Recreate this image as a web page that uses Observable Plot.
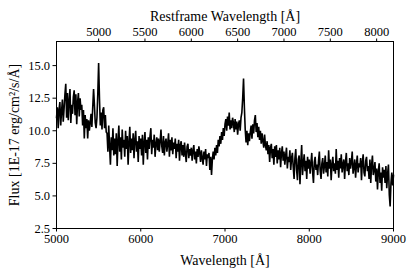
<!DOCTYPE html>
<html>
<head>
<meta charset="utf-8">
<script src="https://cdn.jsdelivr.net/npm/d3@7"></script>
<script src="https://cdn.jsdelivr.net/npm/@observablehq/plot@0.6"></script>
<style>
  html, body { margin: 0; padding: 0; background: #fff; }
  svg, svg text { font-family: "Liberation Serif", serif !important; }
  g[aria-label$="axis label"] text { font-size: 14px; }
</style>
</head>
<body>
<div id="chart"></div>
<script>
// Observed wavelength grid start/step (Å)
const waveStart = 5000;
const waveStep = 10;
// Flux values [1E-17 erg/cm²/s/Å], one every 10 Å from 5000 to 9000
const flux = [
  11.0, 11.8, 10.2, 11.6, 12.2, 10.4, 11.5, 12.4, 10.7, 11.7,
  12.8, 13.6, 11.0, 12.9, 10.8, 12.3, 13.2, 10.6, 12.0, 11.3,
  12.6, 13.1, 11.2, 12.8, 10.5, 12.2, 12.9, 11.1, 12.5, 11.6,
  12.0, 10.4, 11.6, 9.4, 11.2, 10.2, 10.9, 9.4, 10.8, 10.0,
  10.6, 11.3, 10.3, 11.8, 13.2, 12.0, 10.6, 10.2, 11.0, 12.8,
  15.2, 12.5, 10.4, 11.4, 10.1, 11.6, 11.8, 10.2, 11.2, 9.9,
  9.8, 8.4, 10.4, 8.8, 7.4, 9.5, 8.5, 10.2, 8.1, 9.4,
  8.2, 9.8, 7.3, 9.2, 10.4, 8.4, 9.5, 7.8, 10.1, 8.7,
  9.3, 8.0, 10.0, 8.6, 9.6, 7.4, 9.1, 10.3, 8.3, 9.4,
  8.5, 9.8, 7.9, 9.3, 10.0, 8.4, 9.2, 7.6, 9.6, 8.6,
  9.4, 8.1, 9.7, 7.4, 9.1, 9.9, 8.3, 9.3, 7.8, 9.5,
  8.6, 9.6, 10.2, 8.2, 9.3, 8.7, 9.7, 8.0, 9.0, 9.5,
  8.5, 9.4, 8.4, 9.2, 10.1, 8.8, 8.3, 9.6, 8.1, 9.1,
  9.4, 8.4, 9.0, 9.8, 8.0, 9.3, 8.5, 9.5, 8.2, 9.1,
  8.6, 9.4, 7.9, 9.0, 8.4, 9.3, 7.7, 8.9, 9.2, 8.1,
  8.9, 8.0, 9.1, 8.2, 7.6, 8.8, 9.0, 7.9, 8.6, 8.1,
  8.7, 7.7, 8.5, 8.9, 7.8, 8.4, 7.5, 8.6, 8.0, 8.8,
  8.3, 7.6, 8.5, 7.9, 7.4, 8.4, 7.8, 8.6, 7.3, 8.2,
  7.9, 8.3, 7.0, 8.0, 6.6, 7.8, 8.4, 7.8, 8.7, 8.1,
  8.9, 8.3, 9.3, 8.8, 9.6, 9.0, 9.9, 9.3, 10.2, 9.6,
  10.5, 10.9, 10.0, 11.1, 10.4, 11.4, 10.1, 10.8, 10.2, 11.0,
  10.6, 9.9, 10.9, 10.1, 10.7, 9.7, 10.5, 10.8, 10.0, 11.0,
  11.4, 12.5, 14.0, 11.8, 10.1, 9.1, 10.0, 8.9, 9.8, 9.2,
  9.9, 10.4, 9.4, 10.5, 9.8, 10.8, 11.2, 9.9, 10.6, 9.5,
  10.3, 9.3, 10.0, 9.0, 9.8, 9.2, 8.7, 9.7, 8.9, 8.5,
  9.2, 8.2, 8.9, 7.6, 8.7, 9.0, 7.9, 8.6, 7.4, 8.8,
  8.0, 8.9, 7.5, 8.5, 7.8, 8.7, 7.2, 8.3, 8.8, 7.7,
  8.4, 7.4, 8.1, 8.7, 7.1, 8.0, 7.6, 8.5, 7.0, 7.9,
  8.3, 7.2, 6.3, 7.9, 8.6, 7.0, 6.2, 7.8, 8.1, 5.9,
  7.6, 8.9, 6.6, 7.5, 8.2, 6.9, 7.7, 6.3, 8.0, 7.1,
  7.8, 6.7, 7.5, 8.3, 6.8, 6.0, 7.6, 8.0, 7.0, 7.4,
  6.6, 7.7, 8.4, 6.9, 6.3, 7.5, 7.9, 6.7, 7.3, 8.1,
  6.8, 7.6, 6.5, 8.5, 7.1, 7.8, 6.2, 7.4, 8.0, 6.9,
  7.5, 6.7, 8.6, 7.0, 7.7, 6.4, 7.9, 7.1, 8.2, 6.8,
  7.4, 7.8, 6.3, 7.6, 8.3, 6.9, 7.5, 6.6, 7.9, 7.1,
  7.6, 8.4, 6.7, 7.2, 7.8, 6.4, 7.4, 8.1, 6.8, 7.5,
  7.2, 7.9, 6.2, 7.6, 8.2, 6.8, 6.5, 7.7, 8.0, 6.9,
  7.3, 6.3, 7.8, 6.0, 7.4, 8.1, 6.6, 7.0, 7.6, 6.1,
  7.1, 5.5, 6.9, 7.5, 6.0, 6.8, 5.4, 7.2, 6.4, 7.0,
  6.0, 7.3, 5.6, 6.7, 7.4, 5.1, 4.2, 6.0, 6.8, 5.8,
  6.6
];
const redshiftFactor = 1.1; // observed / restframe
const bottomTicks = [5000, 6000, 7000, 8000, 9000];
const topTicks = [5000, 5500, 6000, 6500, 7000, 7500, 8000];
const yTicks = [2.5, 5.0, 7.5, 10.0, 12.5, 15.0];
const xDomain = [5000, 9000];
const yDomain = [2.5, 16.85];

const data = flux.map((f, i) => ({wave: waveStart + i * waveStep, flux: f}));

const chart = Plot.plot({
  width: 413,
  height: 273,
  marginLeft: 56,
  marginRight: 20,
  marginTop: 41,
  marginBottom: 45,
  style: {fontFamily: "Liberation Serif, serif", fontSize: "12.5px", color: "black", background: "white"},
  x: {domain: xDomain},
  y: {domain: yDomain},
  marks: [
    Plot.line(data, {x: "wave", y: "flux", stroke: "black", strokeWidth: 1.6, strokeLinejoin: "miter"}),
    Plot.frame({stroke: "black", strokeWidth: 1}),
    Plot.axisX({
      anchor: "bottom", ticks: bottomTicks, tickSize: 3.5, tickPadding: 2.5,
      tickFormat: d => String(d),
      label: "Wavelength [Å]", labelAnchor: "center", labelArrow: "none", labelOffset: 36
    }),
    Plot.axisX({
      anchor: "top",
      ticks: topTicks.map(r => r * redshiftFactor),
      tickSize: 3.5, tickPadding: 2,
      tickFormat: d => String(Math.round(d / redshiftFactor)),
      label: "Restframe Wavelength [Å]", labelAnchor: "center", labelArrow: "none", labelOffset: 30
    }),
    Plot.axisY({
      anchor: "left", ticks: yTicks, tickSize: 3.5, tickPadding: 3,
      tickFormat: d => d.toFixed(1),
      label: "Flux [1E-17 erg/cm²/s/Å]", labelAnchor: "center", labelArrow: "none", labelOffset: 47
    })
  ]
});
document.getElementById("chart").appendChild(chart);
</script>
</body>
</html>
